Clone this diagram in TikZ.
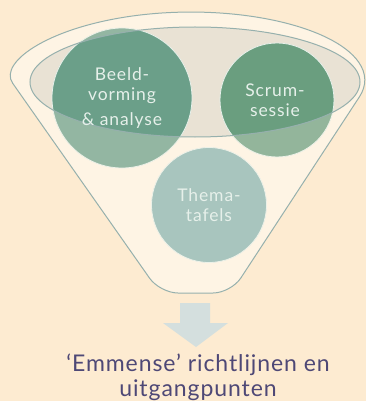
\documentclass[tikz,border=0pt]{standalone}
\usepackage{fontspec}
\setmainfont{Lato}
\usepackage{tikz}
\usetikzlibrary{arrows,shapes,calc,positioning}
\definecolor{fondoCrema}{RGB}{253,235,209}
\definecolor{embudoCrema}{RGB}{254,244,228}
\definecolor{bocaGris}{RGB}{233,226,212}
\definecolor{bordeGris}{RGB}{150,176,173}
\definecolor{verdeBeeld}{RGB}{107,159,137}
\definecolor{verdeScrum}{RGB}{106,158,127}
\definecolor{azulThema}{RGB}{135,179,176}
\definecolor{letraClara}{RGB}{230,240,234}
\definecolor{textoFinal}{RGB}{78,72,118}
\definecolor{flechaGris}{RGB}{212,223,222}
\tikzstyle{stage}    =[circle, draw=letraClara, line width=0.8pt,
                       inner sep=0pt, outer sep=0pt]
\tikzstyle{stagetext}=[text=letraClara, align=center,
                       font=\fontsize{17.5}{20}\selectfont\addfontfeature{LetterSpace=5}]
\tikzstyle{rim}      =[draw=bordeGris, line width=1pt]
\newcommand{\funnelbody}{(23,98) arc[start angle=164.7, end angle=374.4,
    x radius=174, y radius=68] [rounded corners=18] -- (231,293) -- (160,293) -- cycle}
\newcommand{\funnelmouth}{(195,82) ellipse [x radius=165, y radius=55]}

\begin{document}
\begin{tikzpicture}[x=1pt,y=-1pt]
\fill[fondoCrema] (0,0) rectangle (366,401);
\useasboundingbox (0,0) rectangle (366,401);

%%%%%%%%%%%%%%%%%%%%%%%%%%%%%%%%%%%%%%%%%%%%%%%%
%%%%%%%%%%           Funnel           %%%%%%%%%%
%%%%%%%%%%%%%%%%%%%%%%%%%%%%%%%%%%%%%%%%%%%%%%%%
\fill[embudoCrema] \funnelbody;
\fill[bocaGris] \funnelmouth;

%%%%%%%%%%%%%%%%%%%%%%%%%%%%%%%%%%%%%%%%%%%%%%%%
%%%%%%%%%%        Circles inside      %%%%%%%%%%
%%%%%%%%%%%%%%%%%%%%%%%%%%%%%%%%%%%%%%%%%%%%%%%%
\node (beeld) [stage, fill=verdeBeeld, minimum size=140pt] at (122,98){};
\node (scrum) [stage, fill=verdeScrum, minimum size=114pt] at (277,100){};
\node (thema) [stage, fill=azulThema,  minimum size=115pt] at (209,205){};

% the front of the funnel veils what lies below the mouth
\fill[embudoCrema, fill opacity=0.28, even odd rule] \funnelbody \funnelmouth;
\path[rim] \funnelmouth;
\path[rim] \funnelbody;

\node (beeldT) [stagetext] at ($(beeld)+(0,0)$){Beeld-\\vorming\\[5pt]\& analyse};
\node (scrumT) [stagetext] at ($(scrum)+(-2,0)$){Scrum-\\sessie};
\node (themaT) [stagetext] at ($(thema)+(0,0)$){Thema-\\tafels};

%%%%%%%%%%%%%%%%%%%%%%%%%%%%%%%%%%%%%%%%%%%%%%%%
%%%%%%%%%%           Result           %%%%%%%%%%
%%%%%%%%%%%%%%%%%%%%%%%%%%%%%%%%%%%%%%%%%%%%%%%%
\fill[flechaGris] (180,303) -- (210,303) -- (210,323) -- (228,323)
    -- (196,347) -- (163,323) -- (180,323) -- cycle;

\node (result) [text=textoFinal, align=center,
    font=\fontsize{23}{25}\selectfont\addfontfeature{LetterSpace=4}] at (198,377)
    {`Emmense' richtlijnen en\\uitgangpunten};
\end{tikzpicture}
\end{document}
